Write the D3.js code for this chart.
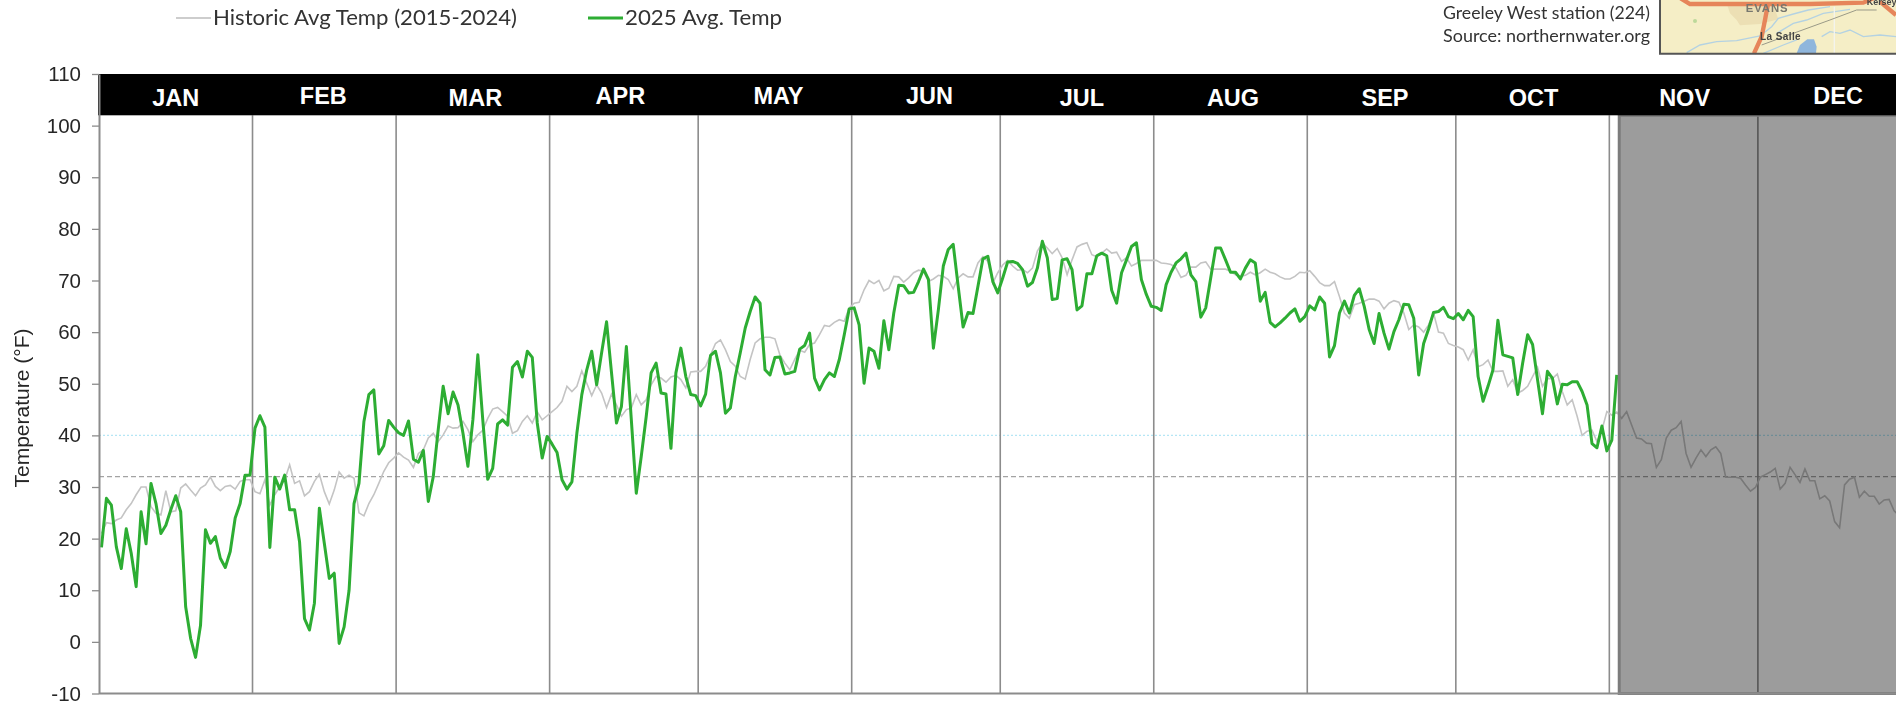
<!DOCTYPE html>
<html>
  <head>
    <title>Greeley West Daily Average Temperature</title>
    <script src="https://d3js.org/d3.v7.min.js"></script>
    <style>
      html, body { margin: 0; padding: 0; background: #fff; overflow: hidden; }
      svg { display: block; filter: blur(0.5px); }
    </style>
  </head>
  <body>
    <script>
      var width = 1896;
      var height = 701;

      var months = ["JAN", "FEB", "MAR", "APR", "MAY", "JUN", "JUL", "AUG", "SEP", "OCT", "NOV", "DEC"];
      // the axis runs over a leap year, so Feb has a 29th slot
      var monthDays = [31, 29, 31, 30, 31, 30, 31, 31, 30, 31, 30, 31];
      var yTicks = [110, 100, 90, 80, 70, 60, 50, 40, 30, 20, 10, 0, -10];
      var raisedMonths = ["FEB", "APR", "MAY", "JUN", "DEC"];

      var freezing = 32;
      var referenceTemp = 40;
      var bandFloor = 102;
      var futureStart = 307;

      var temp2025 = [
        18.3, 27.8, 26.5, 18.4, 14.2, 21.9, 17.2, 10.7, 25.2, 19,
        30.7, 26.8, 21, 22.6, 25.6, 28.3, 25.2, 6.8, 0.7, -3,
        3.2, 21.7, 19.1, 20.4, 16.2, 14.4, 17.5, 24, 26.8, 32.3,
        32.3, 41.4, 43.8, 41.6, 18.3, 31.9, 29.6, 32.3, 25.6, 25.6,
        19.4, 4.5, 2.3, 7.5, 25.9, 19.1, 12.3, 13.3, -0.3, 2.9,
        10, 26.8, 30.7, 42.7, 47.9, 48.8, 36.4, 38, 42.9, 41.6,
        40.5, 40, 42.8, 35.4, 34.8, 37.1, 27.2, 32, 41.1, 49.5,
        44.2, 48.4, 45.9, 40.4, 34, 43, 55.6, 43, 31.5, 33.6,
        42.2, 43, 42, 53.2, 54.3, 51.3, 56.3, 55.1, 42.4, 35.6,
        39.8, 38.3, 36.7, 31.4, 29.6, 31, 40.4, 47.9, 52.7, 56.3,
        49.8, 56, 62, 52.1, 42.4, 45.6, 57.2, 43, 28.8, 35.9,
        43.6, 52.1, 54, 48.2, 48, 37.5, 52.1, 56.9, 51.4, 47.9,
        47.7, 45.7, 48, 55.5, 56.3, 52.1, 44.3, 45.3, 51.4, 56,
        60.8, 64, 66.8, 65.6, 52.7, 51.7, 55.1, 55.2, 51.9, 52.1,
        52.4, 56.7, 57.4, 59.8, 51.1, 48.8, 50.8, 52.1, 51.4, 54.7,
        59.5, 64.5, 64.7, 61.4, 50.1, 56.9, 56.3, 53, 62.2, 56.6,
        63.7, 69.1, 69, 67.6, 67.7, 69.8, 72.2, 70.2, 56.9, 64.3,
        72.8, 76, 77, 68.9, 61, 63.8, 63.6, 68.9, 74.2, 74.7,
        69.8, 67.6, 70.5, 73.6, 73.7, 73.3, 72.1, 68.9, 69.6, 72.4,
        77.6, 74.4, 66.3, 66.5, 74, 74.2, 72.1, 64.3, 65.1, 71.3,
        71.3, 74.8, 75.3, 74.8, 68.1, 65.6, 71.5, 74, 76.6, 77.3,
        70.2, 67.3, 65, 64.8, 64.2, 69.2, 71.6, 73.4, 74.2, 75.3,
        71.1, 69.8, 62.9, 64.7, 70.5, 76.3, 76.3, 74, 71.6, 71.6,
        70.3, 72.4, 74, 73.4, 66, 67.7, 61.9, 61, 61.8, 62.7,
        63.7, 64.5, 62.1, 63, 65.1, 64.3, 66.8, 65.6, 55.2, 57.4,
        63.7, 66, 63.7, 67.1, 68.4, 65, 60.5, 57.8, 63.6, 59.8,
        56.7, 60.1, 62.4, 65.4, 65.3, 62.7, 51.7, 57.8, 60.6, 63.8,
        64, 64.8, 63, 62.6, 63.6, 62.4, 64.2, 63, 51.4, 46.6,
        49.5, 52.7, 62.3, 55.6, 55.3, 55, 47.9, 54, 59.5, 57.6,
        50.8, 44.2, 52.4, 51.1, 46.1, 49.9, 49.8, 50.4, 50.4, 48.5,
        45.9, 38.4, 37.6, 41.8, 37, 39.1, 51.7
      ];

      var tempHistoric = [
        21, 23.1, 22.9, 23.6, 24, 25.6, 26.8, 28.5, 30, 30,
        26.2, 24.9, 24.6, 29.3, 25.2, 25.4, 29.8, 30.6, 29.4, 28.3,
        29.8, 30.4, 31.9, 30.1, 29.3, 30.1, 30.3, 29.6, 31.1, 31.4,
        31.4, 29.1, 28.7, 31.4, 26.5, 28.5, 30.1, 31.4, 34.3, 30.7,
        31.2, 28.3, 29.1, 31.1, 32.5, 29.1, 26.7, 29.4, 32.9, 31.7,
        32.3, 31.7, 25, 24.4, 26.8, 28.5, 30.7, 33, 34.7, 35.6,
        36.6, 35.8, 35.2, 33.8, 36.5, 37.2, 39.5, 40.4, 38.8, 40.1,
        41.8, 41.4, 41.5, 42.7, 41.1, 38.8, 40.1, 41, 43.3, 45.1,
        45.4, 44.6, 43.7, 40.4, 40.9, 42.7, 43.8, 42.4, 44.6, 43,
        43.8, 44.6, 45.4, 46.6, 49.5, 48.5, 49.5, 52.5, 50.1, 47.7,
        49.8, 48.2, 45.4, 48, 45.9, 43.7, 45, 45.3, 47.9, 45.9,
        46.9, 49.8, 51.4, 51.1, 50.3, 51.3, 51.6, 50.8, 49.2, 52.3,
        52.4, 52.4, 53.4, 55.6, 57.8, 58.5, 56.6, 54.3, 53.4, 51.4,
        50.9, 54.7, 57.9, 58.7, 59, 59, 58.7, 55.6, 54, 52.7,
        54.7, 56.5, 56.1, 57.6, 57.9, 59.5, 61.3, 61.1, 61.9, 62.4,
        62.1, 64.7, 65.6, 65.8, 68.2, 70, 69.4, 70, 68, 68.5,
        70.8, 70.7, 69.7, 70.5, 71.5, 72, 71.8, 69.8, 70.3, 71,
        70.8, 70.2, 68.4, 70.5, 71.3, 70.7, 70.7, 73.4, 74.6, 73.7,
        69.5, 71.5, 73, 73.9, 72.8, 72, 72.1, 71.5, 72.4, 75.7,
        77.3, 76.3, 75.2, 76.2, 74.4, 71.1, 74, 76.5, 77, 77.3,
        75, 74.6, 75.3, 76.1, 75.3, 75.5, 73.7, 74.4, 72.8, 73.3,
        73.9, 73.9, 73.9, 73.9, 73.4, 73.3, 73.1, 72.4, 70.6, 71,
        72.6, 72.6, 73.4, 73.6, 72.2, 72.2, 72.2, 72.2, 71.8, 71.1,
        70.8, 71, 71.6, 71.1, 71.5, 72.2, 71.6, 71.3, 70.7, 70.3,
        70.3, 70.8, 71.6, 71.5, 71.9, 70.8, 69.6, 69, 69, 69.8,
        66.9, 63.7, 62.7, 65.3, 65.6, 66, 66.4, 66.4, 66, 64.5,
        65.6, 66.1, 65.8, 63.7, 60.5, 61.4, 61, 60, 61.4, 63.7,
        60, 59.8, 57.8, 57.4, 57.1, 56.6, 54.6, 56.6, 53.3, 53.7,
        54.6, 52.4, 52.4, 52.5, 49.5, 50.8, 48.2, 48.7, 49.5, 51.4,
        53.2, 49.5, 51, 51, 51.9, 48.5, 45.9, 46.9, 43.7, 40,
        40.8, 41, 38.8, 41, 44.6, 43.9, 44.5, 43.3, 44.6, 42,
        39.5, 39.3, 38.5, 38.4, 33.8, 35.3, 39.5, 41, 41.5, 42.7,
        36.5, 33.8, 35.6, 37.2, 35.9, 37.2, 37.8, 36.5, 31.9, 31.9,
        31.9, 31.7, 30.4, 29.2, 29.9, 31.9, 32.4, 32.9, 33.6, 29.6,
        30.7, 33.8, 32.4, 30.9, 33.5, 31.2, 31.2, 27.7, 28.3, 27.3,
        23.3, 22.1, 30.4, 31.5, 31.9, 28, 29.2, 28.2, 28.2, 26.7,
        27.5, 27.6, 25.4, 24.5
      ];

      var monthStarts = [0].concat(Array.from(d3.cumsum(monthDays)));

      var xScale = d3.scaleLinear()
          .domain([0, 366])
          .range([99, 1911.4]);

      var yScale = d3.scaleLinear()
          .domain([110, -10])
          .range([74, 693.5]);

      var svg = d3.select("body")
        .append("svg")
          .attr("width", width)
          .attr("height", height);

      // thresholds
      svg.append("line")
          .attr("x1", xScale(0))
          .attr("x2", width)
          .attr("y1", yScale(referenceTemp))
          .attr("y2", yScale(referenceTemp))
          .attr("stroke", "#b5e6f5")
          .attr("stroke-width", 1.2)
          .attr("stroke-dasharray", "2,2");

      svg.append("line")
          .attr("x1", xScale(0))
          .attr("x2", width)
          .attr("y1", yScale(freezing))
          .attr("y2", yScale(freezing))
          .attr("stroke", "#a3a3a3")
          .attr("stroke-width", 1.2)
          .attr("stroke-dasharray", "5,3");

      // month dividers
      svg.append("g")
          .classed("month-lines", true)
        .selectAll("line")
        .data(monthStarts.slice(1, 12))
        .enter()
        .append("line")
          .attr("x1", function(d) { return xScale(d); })
          .attr("x2", function(d) { return xScale(d); })
          .attr("y1", yScale(bandFloor))
          .attr("y2", yScale(-10))
          .attr("stroke", "#8c8c8c")
          .attr("stroke-width", 1.6);

      var line = d3.line()
          .x(function(d, i) { return xScale(i + 0.5); })
          .y(function(d) { return yScale(d); });

      svg.append("path")
          .datum(tempHistoric)
          .attr("d", line)
          .attr("fill", "none")
          .attr("stroke", "#c4c4c4")
          .attr("stroke-width", 1.6);

      svg.append("path")
          .datum(temp2025)
          .attr("d", line)
          .attr("fill", "none")
          .attr("stroke", "#2dad33")
          .attr("stroke-width", 3)
          .attr("stroke-linejoin", "round");

      // rest of the year, greyed out
      svg.append("rect")
          .attr("x", xScale(futureStart))
          .attr("y", yScale(bandFloor))
          .attr("width", width - xScale(futureStart) + 10)
          .attr("height", yScale(-10) - yScale(bandFloor))
          .attr("fill", "#000")
          .attr("fill-opacity", 0.39)
          .attr("stroke", "#7c7c7c")
          .attr("stroke-width", 3);

      // black month header
      svg.append("rect")
          .attr("x", xScale(0) - 1)
          .attr("y", yScale(110))
          .attr("width", width - xScale(0) + 1)
          .attr("height", yScale(bandFloor) - yScale(110))
          .attr("fill", "#000");

      // the header labels are not quite centred over their months in the source
      var labelNudge = {FEB: -1, MAR: 2.5, APR: -3.5, MAY: 3.5, JUN: 3.5, JUL: 5, AUG: 2.5, SEP: 3.5, OCT: 1, NOV: 1, DEC: 3.5};

      svg.append("g")
          .classed("month-labels", true)
        .selectAll("text")
        .data(months)
        .enter()
        .append("text")
          .attr("x", function(d, i) {
            return xScale((monthStarts[i] + monthStarts[i + 1]) / 2) + (labelNudge[d] || 0);
          })
          .attr("y", function(d) { return raisedMonths.indexOf(d) >= 0 ? 104 : 106; })
          .attr("text-anchor", "middle")
          .attr("fill", "#fff")
          .style("font", "bold 23.5px 'Liberation Sans', Arial, sans-serif")
          .text(function(d) { return d; });

      // axes
      var yAxis = d3.axisLeft(yScale)
          .tickValues(yTicks)
          .tickFormat(function(d) { return String(d); })
          .tickSizeInner(7)
          .tickSizeOuter(0);

      var yAxisG = svg.append("g")
          .classed("y-axis", true)
          .attr("transform", "translate(" + xScale(0) + ",0)")
          .call(yAxis);

      yAxisG.select(".domain").attr("stroke", "#8c8c8c").attr("stroke-width", 2);
      yAxisG.selectAll(".tick line").attr("stroke", "#8c8c8c").attr("stroke-width", 1.3);
      yAxisG.selectAll(".tick text")
          .attr("x", -18)
          .attr("fill", "#262626")
          .style("font", "20.5px 'Liberation Sans', Arial, sans-serif");

      svg.append("line")
          .classed("x-axis", true)
          .attr("x1", xScale(0))
          .attr("x2", width)
          .attr("y1", yScale(-10))
          .attr("y2", yScale(-10))
          .attr("stroke", "#8c8c8c")
          .attr("stroke-width", 2);

      svg.append("text")
          .attr("transform", "translate(29,408) rotate(-90)")
          .attr("text-anchor", "middle")
          .attr("fill", "#262626")
          .attr("textLength", 159)
          .attr("lengthAdjust", "spacingAndGlyphs")
          .style("font", "20px 'Liberation Sans', Arial, sans-serif")
          .text("Temperature (°F)");

      // legend
      var legendFont = "22px Lato, sans-serif";

      svg.append("line")
          .attr("x1", 176).attr("x2", 211).attr("y1", 18).attr("y2", 18)
          .attr("stroke", "#bdbdbd").attr("stroke-width", 1.6);
      svg.append("text")
          .attr("x", 213).attr("y", 25)
          .attr("fill", "#333")
          .attr("textLength", 304)
          .attr("lengthAdjust", "spacingAndGlyphs")
          .style("font", legendFont)
          .text("Historic Avg Temp (2015-2024)");

      svg.append("line")
          .attr("x1", 588).attr("x2", 623).attr("y1", 18).attr("y2", 18)
          .attr("stroke", "#2dad33").attr("stroke-width", 3);
      svg.append("text")
          .attr("x", 625).attr("y", 25)
          .attr("fill", "#333")
          .attr("textLength", 157)
          .attr("lengthAdjust", "spacingAndGlyphs")
          .style("font", legendFont)
          .text("2025 Avg. Temp");

      // station note
      svg.append("text")
          .attr("x", 1443).attr("y", 19)
          .attr("fill", "#333")
          .attr("textLength", 207)
          .attr("lengthAdjust", "spacingAndGlyphs")
          .style("font", "16.5px Lato, sans-serif")
          .text("Greeley West station (224)");
      svg.append("text")
          .attr("x", 1443).attr("y", 42)
          .attr("fill", "#333")
          .attr("textLength", 207)
          .attr("lengthAdjust", "spacingAndGlyphs")
          .style("font", "16.5px Lato, sans-serif")
          .text("Source: northernwater.org");

      // locator map, sketched
      var map = svg.append("g")
          .classed("map", true)
          .attr("transform", "translate(1650,0) scale(0.3333)");

      map.append("rect")
          .attr("x", 30).attr("y", -10).attr("width", 720).attr("height", 171)
          .attr("fill", "#f5eec6");
      map.append("path")
          .attr("d", "M170,12 L230,10 L240,40 L260,60 L270,76 L330,72 L385,58 L370,12 Z")
          .attr("fill", "#ecdfb4");
      map.append("circle")
          .attr("cx", 135).attr("cy", 63).attr("r", 6)
          .attr("fill", "#bcd89a");

      var mapRivers = [
        "M110,158 L150,135 L200,125 L260,122 L330,108 L365,80 L385,55 L430,42 L475,30 L540,20",
        "M380,100 L430,70 L470,60 L520,40 L600,28",
        "M515,110 L540,95 L570,100 L600,90 L640,110 L690,105 L738,110",
        "M340,160 L400,135 L440,120"
      ];
      map.selectAll("path.river")
        .data(mapRivers)
        .enter()
        .append("path")
          .classed("river", true)
          .attr("d", function(d) { return d; })
          .attr("fill", "none")
          .attr("stroke", "#b4d2e2")
          .attr("stroke-width", 4);

      map.append("path")
          .attr("d", "M440,160 L450,135 L472,118 L492,118 L500,140 L498,160 Z")
          .attr("fill", "#8fb6dc");
      map.append("line")
          .attr("x1", 553).attr("x2", 553).attr("y1", 20).attr("y2", 160)
          .attr("stroke", "#f4f4ee").attr("stroke-width", 4);
      map.append("path")
          .attr("d", "M335,135 L430,100 L540,60 L620,30 L680,30")
          .attr("fill", "none")
          .attr("stroke", "#9a9a88")
          .attr("stroke-width", 3);

      var mapRoads = [
        "M92,-5 L120,12 L480,12 L640,8 L670,-5",
        "M354,12 L345,60 L335,110 L312,160",
        "M690,5 L738,45"
      ];
      map.selectAll("path.road")
        .data(mapRoads)
        .enter()
        .append("path")
          .classed("road", true)
          .attr("d", function(d) { return d; })
          .attr("fill", "none")
          .attr("stroke", "#e6855a")
          .attr("stroke-width", 13);

      map.append("text")
          .attr("x", 287).attr("y", 36)
          .attr("fill", "#77776f")
          .attr("textLength", 126)
          .style("font", "bold 34px 'Liberation Sans', sans-serif")
          .text("EVANS");
      map.append("text")
          .attr("x", 330).attr("y", 120)
          .attr("fill", "#444")
          .attr("textLength", 122)
          .style("font", "bold 30px 'Liberation Sans', sans-serif")
          .text("La Salle");
      map.append("text")
          .attr("x", 650).attr("y", 14)
          .attr("fill", "#444")
          .style("font", "bold 27px 'Liberation Sans', sans-serif")
          .text("Kersey");

      map.append("path")
          .attr("d", "M30,-10 L30,161 L750,161")
          .attr("fill", "none")
          .attr("stroke", "#555")
          .attr("stroke-width", 6);
    </script>
  </body>
</html>
